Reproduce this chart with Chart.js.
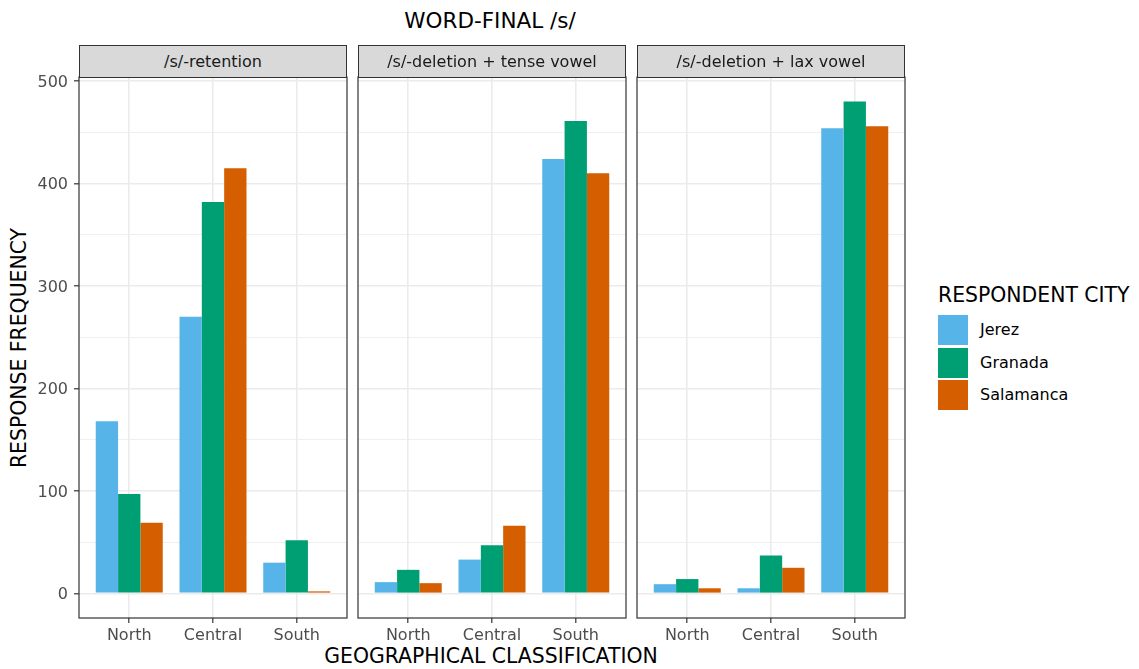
<!DOCTYPE html>
<html>
<head>
<meta charset="utf-8">
<title>WORD-FINAL /s/</title>
<script src="https://cdn.jsdelivr.net/npm/chart.js@4"></script>
<style>
  html, body { margin: 0; padding: 0; background: #ffffff; }
  #page { position: relative; width: 1139px; height: 669px; overflow: hidden;
          font-family: "DejaVu Sans", sans-serif; background: #ffffff; }
  #page canvas { position: absolute; left: 0; top: 0; }
  .txt { position: absolute; white-space: nowrap; line-height: 1; transform: translate(-50%, -50%); color: #000; }
  .strip { position: absolute; top: 45px; height: 33px; box-sizing: border-box;
           border: 1.2px solid #333333; background: #d9d9d9; color: #1a1a1a;
           font-size: 16px; display: flex; align-items: center; justify-content: center; z-index: 2; }
  .key { position: absolute; left: 938px; width: 30px; height: 30px; }
  .keylab { position: absolute; left: 980px; font-size: 16px; line-height: 1; transform: translateY(-50%); white-space: nowrap; }
</style>
</head>
<body>
<div id="page">
  <div class="txt" style="left:490px; top:21px; font-size:21.5px;">WORD-FINAL /s/</div>
  <div class="txt" style="left:491px; top:656px; font-size:20.4px;">GEOGRAPHICAL CLASSIFICATION</div>
  <div class="txt" style="left:19px; top:347.5px; font-size:20.4px; transform: translate(-50%, -50%) rotate(-90deg);">RESPONSE FREQUENCY</div>
  <div class="txt" style="left:938px; top:295px; font-size:20.4px; transform: translateY(-50%);">RESPONDENT CITY</div>
</div>
<script>
// Categories and labels
const regions = ['North', 'Central', 'South'];
const cities = ['Jerez', 'Granada', 'Salamanca'];
const facetLabels = ['/s/-retention', '/s/-deletion + tense vowel', '/s/-deletion + lax vowel'];
const yTickValues = [0, 50, 100, 150, 200, 250, 300, 350, 400, 450, 500];

// Response frequencies per region (North, Central, South)
const retentionJerez     = [168, 270, 30];
const retentionGranada   = [97, 382, 52];
const retentionSalamanca = [69, 415, 2];

const tenseJerez     = [11, 33, 424];
const tenseGranada   = [23, 47, 461];
const tenseSalamanca = [10, 66, 410];

const laxJerez     = [9, 5, 454];
const laxGranada   = [14, 37, 480];
const laxSalamanca = [5, 25, 456];

// Styling and panel geometry
const cityColors = ['#56B4E9', '#009E73', '#D55E00'];
const W = 1139, H = 669;
const panelLefts = [79, 358, 637];
const panelWidth = 268;
const panelTop = 77, panelBottom = 618;
const yAxisWidth = 55;   // room for the value labels of the first panel
const xAxisHeight = 40;  // room for the region labels under every panel

const page = document.getElementById('page');

// Facet strips
facetLabels.forEach((lab, i) => {
  const d = document.createElement('div');
  d.className = 'strip';
  d.style.left = panelLefts[i] + 'px';
  d.style.width = panelWidth + 'px';
  d.textContent = lab;
  page.appendChild(d);
});

// Legend keys
cities.forEach((c, k) => {
  const top = 315 + k * 32.5;
  const key = document.createElement('div');
  key.className = 'key';
  key.style.top = top + 'px';
  key.style.background = cityColors[k];
  page.appendChild(key);
  const lab = document.createElement('div');
  lab.className = 'keylab';
  lab.style.top = (top + 15) + 'px';
  lab.textContent = c;
  page.appendChild(lab);
});

// Outline around each panel's plotting area
const panelBorder = {
  id: 'panelBorder',
  afterDatasetsDraw(chart) {
    const { ctx, chartArea: a } = chart;
    ctx.save();
    ctx.strokeStyle = '#333333';
    ctx.lineWidth = 1.2;
    ctx.strokeRect(a.left, a.top, a.right - a.left, a.bottom - a.top);
    ctx.restore();
  }
};

function makePanel(i, series, showY) {
  const canvas = document.createElement('canvas');
  canvas.width = W; canvas.height = H;
  page.appendChild(canvas);
  const left = panelLefts[i];
  const yW = showY ? yAxisWidth : 0;
  new Chart(canvas, {
    type: 'bar',
    data: {
      datasets: series.map((vals, k) => ({
        label: cities[k],
        data: vals.map((v, j) => ({ x: j, y: v })),
        backgroundColor: cityColors[k],
        borderWidth: 0
      }))
    },
    options: {
      responsive: false,
      animation: false,
      devicePixelRatio: 1,
      categoryPercentage: 0.8,
      barPercentage: 1.0,
      layout: { padding: { left: left - yW, top: panelTop, right: W - left - panelWidth, bottom: H - panelBottom - xAxisHeight } },
      plugins: { legend: { display: false }, tooltip: { enabled: false } },
      scales: {
        x: {
          type: 'linear',
          offset: false,
          min: -0.6, max: 2.6,
          afterFit(s) { s.height = xAxisHeight; },
          afterBuildTicks(s) { s.ticks = regions.map((_, j) => ({ value: j })); },
          ticks: {
            callback: v => regions[v],
            color: '#4d4d4d',
            font: { family: 'DejaVu Sans', size: 16 },
            padding: 3,
            autoSkip: false,
            maxRotation: 0
          },
          grid: { offset: false, color: '#ebebeb', lineWidth: 1.6, tickColor: '#333333', tickWidth: 1.2, tickLength: 5 },
          border: { display: false }
        },
        y: {
          type: 'linear',
          min: -24, max: 504,
          afterFit(s) { s.width = yW; },
          afterBuildTicks(s) { s.ticks = yTickValues.map(v => ({ value: v })); },
          ticks: {
            display: showY,
            callback: v => (v % 100 === 0 ? String(v) : ''),
            color: '#4d4d4d',
            font: { family: 'DejaVu Sans', size: 16 },
            padding: 6,
            labelOffset: 1.5
          },
          grid: {
            color: '#ebebeb',
            lineWidth: c => (c.tick && c.tick.value % 100 === 0 ? 1.6 : 0.8),
            tickColor: c => (c.tick && c.tick.value % 100 === 0 ? '#333333' : 'rgba(0,0,0,0)'),
            tickWidth: 1.2,
            drawTicks: showY,
            tickLength: showY ? 5 : 0
          },
          border: { display: false }
        }
      }
    },
    plugins: [panelBorder]
  });
}

makePanel(0, [retentionJerez, retentionGranada, retentionSalamanca], true);
makePanel(1, [tenseJerez, tenseGranada, tenseSalamanca], false);
makePanel(2, [laxJerez, laxGranada, laxSalamanca], false);
</script>
</body>
</html>
